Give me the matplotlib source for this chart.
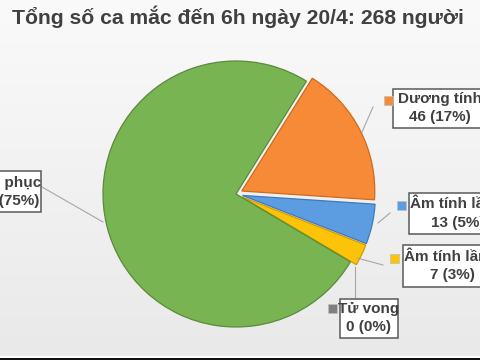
import matplotlib
matplotlib.use("Agg")
import matplotlib.pyplot as plt
import numpy as np
from matplotlib.patches import Rectangle

plt.rcParams["font.family"] = ["Liberation Sans", "DejaVu Sans"]

# ---- data ----
TITLE = "Tổng số ca mắc đến 6h ngày 20/4: 268 người"
NAMES = ["Dương tính", "Âm tính lần 1", "Âm tính lần 2", "Tử vong", "Bình phục"]
VALUES = [46, 13, 7, 0, 202]
COLORS = ["#f68a37", "#5b9de0", "#fdc309", "#7f7f7f", "#78b552"]
EDGES = ["#cf6a1f", "#3e79bb", "#cf9c00", "#606060", "#5a8a3a"]

TEXT_COLOR = "#404040"
W, H = 480, 360

fig = plt.figure(figsize=(4.8, 3.6), dpi=100)
ax = fig.add_axes([0, 0, 1, 1])

# background gradient (light grey, darker to the bottom)
grad = np.linspace(0, 1, 256).reshape(-1, 1)
ax.imshow(grad, extent=(0, W, 0, H), cmap=matplotlib.colors.LinearSegmentedColormap.from_list(
    "bg", ["#e9e9e9", "#fafafa"]), origin="lower", aspect="auto", zorder=0)


def py(y):
    # pixel row (from the top) -> data y
    return H - y


# pie (zero slice skipped so it leaves no stray line)
total = sum(VALUES)
idx = [i for i, v in enumerate(VALUES) if v > 0]
# explode is in data units here (pixels), not a fraction of the radius
explode = [0.0 if NAMES[i] == "Bình phục" else 6.5 for i in idx]
wedges, _ = ax.pie([VALUES[i] for i in idx], colors=[COLORS[i] for i in idx],
                   explode=explode, startangle=58, counterclock=False,
                   center=(236, py(194)), radius=133,
                   wedgeprops=dict(linewidth=0.9))
for w, i in zip(wedges, idx):
    w.set_edgecolor(EDGES[i])
    w.set_zorder(2)

# label boxes: (box left, top, right, bottom), text centre x, marker centre, leader line
LABEL_POS = {
    "Dương tính":    dict(box=(393, 89, 520, 128), tx=440, mk=(388, 100),
                          lead=[(362, 132), (373, 107)]),
    "Âm tính lần 1": dict(box=(409, 193, 520, 234), tx=458, mk=(401, 205),
                          lead=[(378, 223), (390, 213)]),
    "Âm tính lần 2": dict(box=(403, 245, 520, 287), tx=452, mk=(394, 258),
                          lead=[(357, 258), (383, 265)]),
    "Tử vong":       dict(box=(340, 299, 398, 338), tx=369, mk=(332, 308),
                          lead=[(355, 267), (355, 297)]),
    "Bình phục":     dict(box=(-60, 171, 41, 212), tx=4, mk=(-70, 183),
                          lead=[(42, 187), (103, 222)]),
}

for name, val, col in zip(NAMES, VALUES, COLORS):
    p = LABEL_POS[name]
    x0, y0, x1, y1 = p["box"]
    (lx0, ly0), (lx1, ly1) = p["lead"]
    ax.plot([lx0, lx1], [py(ly0), py(ly1)], color="#a6a6a6", lw=0.8, zorder=3)
    ax.add_patch(Rectangle((x0, py(y1)), x1 - x0, y1 - y0, facecolor="white",
                           edgecolor="#595959", lw=1.1, zorder=4))
    mx, my = p["mk"]
    ax.add_patch(Rectangle((mx - 4.5, py(my) - 4.5), 9, 9, facecolor=col,
                           edgecolor="#bfbfbf", lw=0.5, zorder=4))
    yc = (y0 + y1) / 2
    pct = round(val / total * 100)
    ax.text(p["tx"], py(yc - 9), name, ha="center", va="center", fontsize=11,
            fontweight="bold", color=TEXT_COLOR, zorder=5)
    ax.text(p["tx"], py(yc + 9), f"{val} ({pct}%)", ha="center", va="center",
            fontsize=11, fontweight="bold", color=TEXT_COLOR, zorder=5)

ax.text(238, py(17), TITLE, ha="center", va="center", fontsize=15.2,
        fontweight="bold", color=TEXT_COLOR, zorder=5)

# dark strip at the very bottom of the screenshot
ax.add_patch(Rectangle((0, 0), W, 2.5, facecolor="#111111", edgecolor="none", zorder=6))
ax.add_patch(Rectangle((0, 2.5), W, 1.2, facecolor="white", edgecolor="none", zorder=6))

ax.set_xlim(0, W)
ax.set_ylim(0, H)
ax.set_aspect("auto")
ax.axis("off")

fig.savefig("out.png", dpi=100)
